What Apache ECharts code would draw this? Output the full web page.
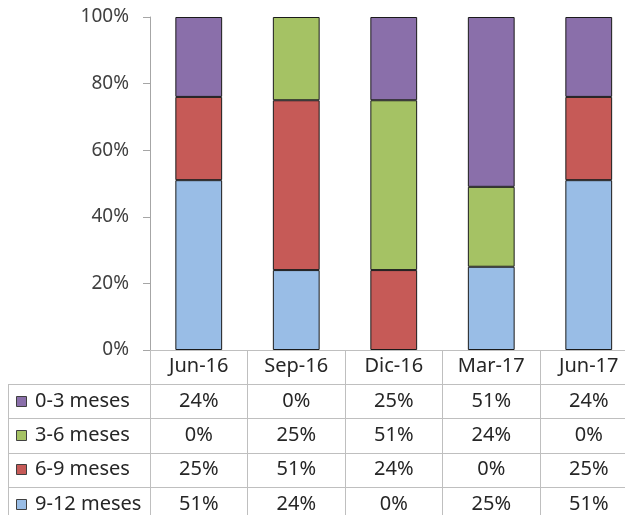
<!DOCTYPE html>
<html>
<head>
<meta charset="utf-8">
<script src="https://cdn.jsdelivr.net/npm/echarts@6/dist/echarts.min.js"></script>
<style>html,body{margin:0;padding:0;background:#fff}#c{width:625px;height:515px}</style>
</head>
<body>
<div id="c"></div>
<script>
var categories = ['Jun-16', 'Sep-16', 'Dic-16', 'Mar-17', 'Jun-17'];
var seriesNames = ['0-3 meses', '3-6 meses', '6-9 meses', '9-12 meses'];
var s0_3 = [24, 0, 25, 51, 24];
var s3_6 = [0, 25, 51, 24, 0];
var s6_9 = [25, 51, 24, 0, 25];
var s9_12 = [51, 24, 0, 25, 51];
var yTicks = [0, 20, 40, 60, 80, 100];

var colors = {'0-3 meses': '#8A6FAA', '3-6 meses': '#A5C264', '6-9 meses': '#C65A57', '9-12 meses': '#99BDE6'};
var valuesByName = {'0-3 meses': s0_3, '3-6 meses': s3_6, '6-9 meses': s6_9, '9-12 meses': s9_12};
var FONT = 'Noto Sans';
var TABLE_FS = 20;

var chart = echarts.init(document.getElementById('c'), null, {renderer: 'canvas'});
var stackOrder = ['9-12 meses', '6-9 meses', '3-6 meses', '0-3 meses'];
var series = stackOrder.map(function (n) {
  return {
    name: n, type: 'bar', stack: 'total', barWidth: '48%',
    data: valuesByName[n].map(function (v) { return v === 0 ? null : v; }),
    itemStyle: {color: colors[n], borderColor: '#1a1a1a', borderWidth: 1},
    emphasis: {disabled: true}
  };
});

chart.setOption({
  animation: false,
  grid: {left: 150, top: 17, width: 487.5, height: 333, containLabel: false, outerBoundsMode: 'none'},
  xAxis: {
    type: 'category', data: categories, boundaryGap: true,
    axisLine: {show: true, lineStyle: {color: '#BFBFBF', width: 1}},
    axisTick: {show: true, length: 200, lineStyle: {color: '#BFBFBF', width: 1}},
    axisLabel: {show: true, margin: 6, fontFamily: FONT, fontSize: TABLE_FS, color: '#262626', interval: 0}
  },
  yAxis: {
    type: 'value', min: yTicks[0], max: yTicks[yTicks.length - 1], interval: 20,
    axisLine: {show: true, lineStyle: {color: '#A6A6A6', width: 1}},
    axisTick: {show: true, length: 7, lineStyle: {color: '#A6A6A6'}},
    splitLine: {show: false},
    axisLabel: {formatter: '{value}%', margin: 21, fontFamily: FONT, fontSize: 19, color: '#404040'}
  },
  series: series
});

// Data table below the chart
var zeroY = chart.convertToPixel({yAxisIndex: 0}, 0);
var headerH = 34;
var rowH = 34.3;
var tableLeft = 8;
var colW = chart.convertToPixel({xAxisIndex: 0}, categories[1]) - chart.convertToPixel({xAxisIndex: 0}, categories[0]);
var plotLeft = chart.convertToPixel({xAxisIndex: 0}, categories[0]) - colW / 2;
var tableRight = plotLeft + colW * categories.length;
var top0 = zeroY + headerH;
var g = [];
var lineStyle = {stroke: '#BFBFBF', lineWidth: 1};
for (var r = 0; r <= seriesNames.length; r++) {
  var y = Math.round(top0 + r * rowH) + 0.5;
  g.push({type: 'line', shape: {x1: tableLeft, y1: y, x2: tableRight, y2: y}, style: lineStyle, silent: true});
}
g.push({type: 'line', shape: {x1: tableLeft + 0.5, y1: Math.round(top0), x2: tableLeft + 0.5, y2: 520}, style: lineStyle, silent: true});
seriesNames.forEach(function (n, r) {
  var cy = top0 + (r + 0.5) * rowH;
  g.push({type: 'rect', shape: {x: 16.5, y: Math.round(cy - 5.5) + 0.5, width: 10, height: 10},
    style: {fill: colors[n], stroke: '#404040', lineWidth: 1}, silent: true});
  g.push({type: 'text', x: 35, y: cy, style: {text: n, fontFamily: FONT, fontSize: TABLE_FS, fill: '#262626',
    verticalAlign: 'middle', align: 'left'}, silent: true});
  valuesByName[n].forEach(function (v, c) {
    var cx = chart.convertToPixel({xAxisIndex: 0}, categories[c]);
    g.push({type: 'text', x: cx, y: cy, style: {text: v + '%', fontFamily: FONT, fontSize: TABLE_FS, fill: '#262626',
      verticalAlign: 'middle', align: 'center'}, silent: true});
  });
});
chart.setOption({graphic: g});
</script>
</body>
</html>
